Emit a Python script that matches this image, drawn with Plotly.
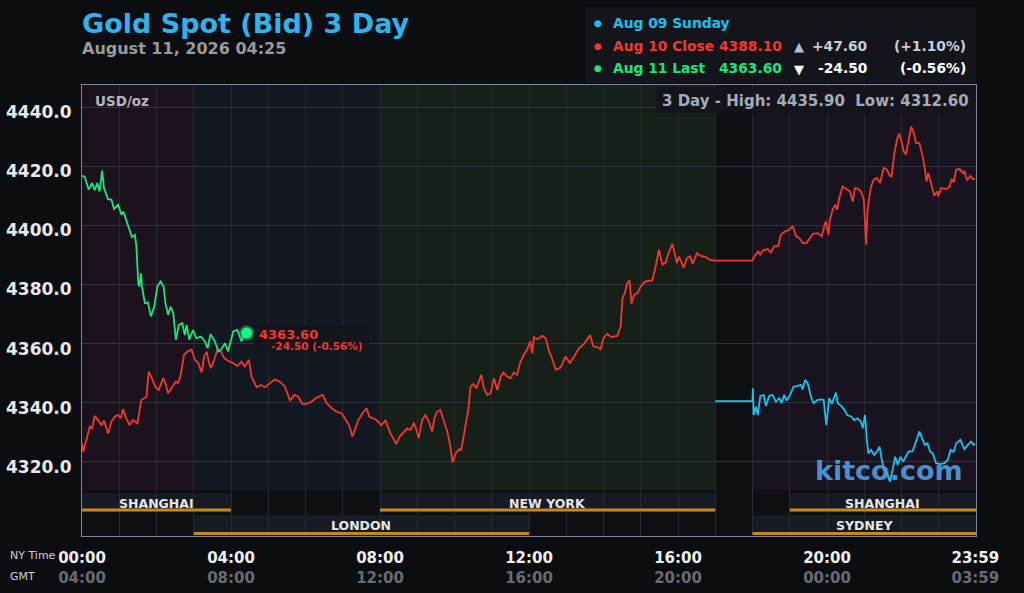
import plotly.graph_objects as go

# Gold spot bid, 3 day view (hours are NY time, 0-24)

aug09_close = 4340.50
aug10_close = 4388.10
high_3day = 4435.90
low_3day = 4312.60

aug09_hours = [17.0, 18.0, 18.01, 18.03, 18.09, 18.14, 18.21, 18.30, 18.36, 18.45, 18.54, 18.63, 18.72, 18.78,
               18.85, 18.92, 19.01, 19.10, 19.21, 19.30, 19.35, 19.41, 19.48, 19.57, 19.64, 19.75, 19.86, 19.91,
               19.98, 20.06, 20.13, 20.18, 20.24, 20.29, 20.38, 20.47, 20.54, 20.65, 20.73, 20.82, 20.91, 20.96,
               21.02, 21.07, 21.11, 21.18, 21.27, 21.34, 21.41, 21.48, 21.54, 21.63, 21.69, 21.77, 21.83, 21.90,
               21.97, 22.04, 22.12, 22.19, 22.30, 22.39, 22.48, 22.57, 22.63, 22.70, 22.77, 22.84, 22.93, 23.05,
               23.15, 23.24, 23.32, 23.40, 23.47, 23.58, 23.69, 23.78, 23.87, 23.94, 23.98]
aug09_prices = [4340.5, 4340.5, 4344.9, 4335.8, 4338.6, 4335.8, 4342.3, 4342.6, 4338.9, 4342.3, 4342.6, 4340.3,
                4341.5, 4339.8, 4342.6, 4340.7, 4342.6, 4345.4, 4345.7, 4346.0, 4344.5, 4347.7, 4346.6, 4342.0,
                4339.8, 4340.9, 4341.1, 4340.9, 4332.4, 4341.5, 4339.6, 4341.5, 4343.4, 4339.8, 4338.9, 4337.5,
                4335.8, 4335.3, 4334.1, 4334.7, 4333.6, 4331.3, 4335.8, 4327.4, 4322.8, 4324.0, 4322.3, 4323.4,
                4325.1, 4320.0, 4317.2, 4315.5, 4313.2, 4317.8, 4321.7, 4318.9, 4321.7, 4320.0, 4321.7, 4323.4,
                4323.6, 4326.8, 4330.2, 4327.4, 4325.7, 4326.2, 4323.4, 4322.8, 4319.5, 4319.2, 4319.5, 4320.6,
                4324.0, 4323.4, 4326.2, 4327.4, 4324.2, 4325.7, 4326.8, 4325.7, 4326.0]

aug10_hours = [0, 0.03, 0.12, 0.21, 0.27, 0.34, 0.43, 0.52, 0.59, 0.70, 0.79, 0.88, 0.97, 1.04, 1.10, 1.19, 1.28,
               1.37, 1.49, 1.59, 1.73, 1.79, 1.86, 1.97, 2.06, 2.18, 2.24, 2.31, 2.42, 2.51, 2.58, 2.65, 2.74, 2.83,
               2.94, 3.03, 3.12, 3.21, 3.28, 3.35, 3.41, 3.46, 3.55, 3.64, 3.73, 3.82, 3.92, 4.06, 4.17, 4.28, 4.37,
               4.48, 4.55, 4.69, 4.80, 4.91, 5.05, 5.18, 5.31, 5.45, 5.58, 5.70, 5.81, 5.91, 6.03, 6.16, 6.27, 6.36,
               6.46, 6.57, 6.70, 6.84, 6.97, 7.07, 7.17, 7.26, 7.33, 7.42, 7.53, 7.64, 7.71, 7.80, 7.91,
               8.03, 8.15, 8.28, 8.44, 8.53, 8.64, 8.73, 8.82, 8.91, 8.98, 9.04, 9.13, 9.22, 9.31, 9.40, 9.46, 9.53,
               9.62, 9.71, 9.82, 9.89, 9.95, 10.03, 10.12, 10.18, 10.25, 10.32, 10.37, 10.43, 10.50, 10.59, 10.72,
               10.79, 10.88, 10.97, 11.06, 11.15, 11.24, 11.31, 11.42, 11.51, 11.59, 11.68, 11.76, 11.86, 11.95,
               12.03, 12.09, 12.13, 12.22, 12.36, 12.45, 12.54, 12.60, 12.72, 12.85, 12.98, 13.10, 13.21, 13.34,
               13.48, 13.64, 13.73, 13.84, 13.92, 14.00, 14.10, 14.21, 14.37, 14.46, 14.51, 14.57, 14.64, 14.70,
               14.75, 14.82, 14.91, 15.00, 15.11, 15.31, 15.40, 15.49, 15.58, 15.67, 15.73, 15.85, 15.91, 15.97,
               16.03, 16.15, 16.24, 16.33, 16.39, 16.51, 16.61, 16.75, 16.84, 16.97, 17.0, 18.0,
               18.05, 18.15, 18.21, 18.27, 18.41, 18.49, 18.58, 18.69, 18.76, 18.87, 18.96, 19.08, 19.17, 19.26,
               19.35, 19.46, 19.62, 19.75, 19.86, 19.93, 19.97, 20.04, 20.07, 20.15, 20.22, 20.27, 20.33, 20.42,
               20.54, 20.62, 20.69, 20.75, 20.84, 20.91, 20.99, 21.05, 21.09, 21.18, 21.26, 21.34, 21.43, 21.52,
               21.61, 21.67, 21.73, 21.81, 21.88, 21.94, 22.00, 22.06, 22.12, 22.19, 22.26, 22.33, 22.39, 22.48,
               22.57, 22.63, 22.67, 22.72, 22.81, 22.88, 22.96, 22.99, 23.06, 23.20, 23.29, 23.35, 23.40, 23.47,
               23.56, 23.65, 23.69, 23.76, 23.85, 23.92, 23.98]
aug10_prices = [4326.2, 4323.4, 4327.4, 4331.9, 4331.3, 4335.5, 4334.1, 4332.4, 4333.9, 4329.6, 4333.6, 4335.3,
                4335.8, 4334.7, 4337.8, 4334.7, 4332.4, 4334.1, 4333.0, 4340.9, 4342.0, 4350.5, 4348.8, 4345.2,
                4344.3, 4348.3, 4346.6, 4343.2, 4345.2, 4347.1, 4346.6, 4349.4, 4356.2, 4357.3, 4357.9, 4354.5,
                4353.4, 4350.2, 4355.6, 4357.3, 4353.4, 4351.7, 4354.5, 4358.1, 4357.3, 4355.1, 4354.2, 4353.4,
                4352.4, 4353.9, 4352.2, 4354.5, 4348.8, 4345.2, 4346.0, 4345.2, 4346.6, 4347.9, 4347.1, 4345.4,
                4340.7, 4342.6, 4342.0, 4339.6, 4339.6, 4340.3, 4341.5, 4342.0, 4342.6, 4339.8, 4338.1, 4336.9,
                4336.4, 4334.4, 4332.4, 4328.5, 4330.7, 4334.1, 4336.4, 4338.1, 4335.3, 4334.7, 4334.1,
                4332.4, 4333.9, 4329.6, 4326.0, 4328.5, 4330.2, 4331.3, 4330.7, 4333.2, 4330.7, 4327.9, 4334.1,
                4335.8, 4333.6, 4330.2, 4334.7, 4336.9, 4337.5, 4334.1, 4329.6, 4325.1, 4319.8, 4322.8, 4324.2,
                4324.0, 4328.5, 4334.1, 4337.5, 4345.4, 4346.3, 4344.9, 4349.4, 4344.9, 4342.6, 4343.2, 4348.3,
                4344.3, 4348.8, 4350.2, 4348.8, 4348.3, 4350.2, 4349.4, 4353.4, 4356.2, 4357.9, 4360.7, 4356.7,
                4362.2, 4361.5, 4362.6, 4361.8, 4357.3, 4355.6, 4351.1, 4351.9, 4355.6, 4353.4, 4355.6, 4358.4,
                4359.9, 4362.9, 4359.0, 4358.8, 4358.1, 4361.8, 4363.3, 4362.2, 4362.6, 4365.8, 4375.4, 4377.1,
                4380.5, 4381.4, 4373.5, 4376.5, 4377.1, 4379.3, 4381.0, 4381.4, 4386.1, 4391.8, 4386.7, 4387.5,
                4390.1, 4393.8, 4390.6, 4387.3, 4389.5, 4385.6, 4389.0, 4389.5, 4387.0, 4390.6, 4389.7, 4389.3,
                4388.4, 4388.1, 4388.1, 4388.1,
                4389.5, 4391.2, 4390.1, 4391.5, 4392.0, 4390.8, 4392.9, 4393.1, 4396.8, 4398.0, 4398.3, 4399.7,
                4396.3, 4395.7, 4394.0, 4394.2, 4397.2, 4397.4, 4396.3, 4399.9, 4401.4, 4396.8, 4401.4, 4405.3,
                4407.0, 4405.3, 4409.3, 4413.2, 4412.1, 4411.5, 4408.1, 4412.7, 4412.3, 4411.5, 4408.7, 4393.5,
                4405.3, 4413.2, 4415.5, 4416.1, 4414.4, 4419.5, 4418.9, 4417.2, 4416.4, 4424.5, 4429.1, 4431.1,
                4428.5, 4425.1, 4424.0, 4429.1, 4433.5, 4431.3, 4427.9, 4427.9, 4423.4, 4418.9, 4414.9, 4417.8,
                4413.8, 4410.1, 4411.5, 4409.8, 4412.7, 4412.3, 4413.2, 4415.7, 4414.6, 4418.9, 4419.1, 4417.8,
                4418.3, 4415.3, 4416.8, 4415.7, 4415.7]

aug11_hours = [0, 0.07, 0.18, 0.27, 0.34, 0.41, 0.47, 0.54, 0.59, 0.70, 0.79, 0.86, 0.97, 1.06, 1.11, 1.19, 1.28,
               1.34, 1.42, 1.46, 1.51, 1.54, 1.58, 1.61, 1.69, 1.77, 1.85, 1.94, 2.02, 2.11, 2.19, 2.24, 2.31, 2.38,
               2.45, 2.52, 2.60, 2.69, 2.76, 2.81, 2.88, 2.98, 3.07, 3.19, 3.30, 3.37, 3.45, 3.57, 3.66, 3.74, 3.84,
               3.92, 4.06, 4.17, 4.28, 4.33, 4.42]
aug11_prices = [4416.8, 4416.6, 4412.1, 4414.4, 4411.9, 4414.4, 4411.5, 4418.6, 4412.7, 4408.9, 4408.7, 4405.6,
                4407.0, 4403.6, 4404.7, 4401.9, 4398.5, 4396.1, 4396.8, 4392.9, 4380.5, 4379.3, 4383.9, 4379.3,
                4373.7, 4373.9, 4369.2, 4372.5, 4379.3, 4381.0, 4379.3, 4373.7, 4369.7, 4372.5, 4370.3, 4361.3,
                4366.3, 4366.9, 4362.9, 4366.3, 4361.3, 4364.6, 4361.8, 4362.4, 4360.7, 4358.4, 4363.2, 4360.7,
                4357.3, 4358.1, 4360.1, 4357.3, 4364.1, 4364.6, 4360.7, 4362.4, 4363.6]

price_ticks = [4320, 4340, 4360, 4380, 4400, 4420, 4440]
time_ticks = [0, 4, 8, 12, 16, 20, 23.983]
ny_labels = ["00:00", "04:00", "08:00", "12:00", "16:00", "20:00", "23:59"]
gmt_labels = ["04:00", "08:00", "12:00", "16:00", "20:00", "00:00", "03:59"]

# background shading by market hours
shade_start = [0, 3, 8, 17, 18]
shade_end = [3, 8, 17, 18, 24]
shade_color = ["#1b121e", "#121722", "#171f19", "#0e0f12", "#19131f"]

# trading session bars (row 1 = upper, row 2 = lower)
session_names = ["SHANGHAI", "NEW YORK", "SHANGHAI", "LONDON", "SYDNEY"]
session_start = [0, 8, 19, 3, 18]
session_end = [4, 17, 24, 12, 24]
session_row = [1, 1, 1, 2, 2]

RED = "#f2382c"
GREEN = "#18e67e"
CYAN = "#17c3ee"
FONT = "DejaVu Sans"
BG = "#0c0d10"

W, H = 1024, 593
L, R, T, B = 82, 48, 85, 57
pw = W - L - R
ph = H - T - B


def px(x):
    return (x - L) / pw


def py(y):
    return (H - B - y) / ph


fig = go.Figure()
fig.add_trace(go.Scatter(x=aug09_hours, y=aug09_prices, mode="lines", line=dict(color=CYAN, width=1.8)))
fig.add_trace(go.Scatter(x=aug10_hours, y=aug10_prices, mode="lines", line=dict(color=RED, width=1.8)))
fig.add_trace(go.Scatter(x=aug11_hours, y=aug11_prices, mode="lines", line=dict(color=GREEN, width=1.8)))

last_h = aug11_hours[-1]
last_p = aug11_prices[-1]
fig.add_trace(go.Scatter(x=[last_h], y=[last_p], mode="markers",
                         marker=dict(color=GREEN, size=15, opacity=0.45, line=dict(width=0))))
fig.add_trace(go.Scatter(x=[last_h], y=[last_p], mode="markers",
                         marker=dict(color="#1ef08a", size=11, line=dict(width=0))))

shapes = []
for s, e, c in zip(shade_start, shade_end, shade_color):
    shapes.append(dict(type="rect", xref="x", yref="paper", x0=s, x1=e, y0=py(490), y1=1,
                       fillcolor=c, line=dict(width=0), layer="below"))
shapes.append(dict(type="rect", xref="x", yref="paper", x0=17, x1=18, y0=0, y1=1,
                   fillcolor="#0e0f12", line=dict(width=0), layer="below"))

annotations = []
for name, s, e, row in zip(session_names, session_start, session_end, session_row):
    if row == 1:
        top, bot, label_y = 493, 512, 503.5
    else:
        top, bot, label_y = 515, 535.5, 525
    shapes.append(dict(type="rect", xref="x", yref="paper", x0=s, x1=e, y0=py(bot), y1=py(top),
                       fillcolor="#161a22", line=dict(width=0), layer="below"))
    shapes.append(dict(type="rect", xref="x", yref="paper", x0=s, x1=e, y0=py(bot - 0.5), y1=py(bot - 3.5),
                       fillcolor="#c9861c", line=dict(width=0), layer="above"))
    annotations.append(dict(x=(s + e) / 2, y=py(label_y), xref="x", yref="paper", text=name, showarrow=False,
                            yanchor="middle",
                            font=dict(family=FONT, size=12.5, color="#e6e6e6", weight="bold")))

# legend box, high/low box and last price label box
shapes.append(dict(type="rect", xref="paper", yref="paper", x0=px(585), x1=px(976), y0=py(83), y1=py(7),
                   fillcolor="#13151a", line=dict(width=0)))
shapes.append(dict(type="rect", xref="paper", yref="paper", x0=px(656), x1=px(975), y0=py(113), y1=py(87),
                   fillcolor="rgba(19,21,26,0.92)", line=dict(width=0)))
shapes.append(dict(type="rect", xref="paper", yref="paper", x0=px(254), x1=px(369), y0=py(351), y1=py(325),
                   fillcolor="rgba(19,21,26,0.85)", line=dict(width=0)))


def note(x, y, text, size, color, anchor="left", bold=True):
    annotations.append(dict(x=px(x), y=py(y), xref="paper", yref="paper", text=text, showarrow=False,
                            xanchor=anchor, yanchor="middle",
                            font=dict(family=FONT, size=size, color=color,
                                      weight="bold" if bold else "normal")))


note(80, 23, "Gold Spot (Bid) 3 Day", 27, "#2fb3ef")
note(80, 49, "August 11, 2026 04:25", 16, "#9a9a9a")

chg10 = aug10_close - aug09_close
chg11 = last_p - aug10_close
legend_rows = [
    ("Aug 09 Sunday", CYAN, None, None, None),
    ("Aug 10 Close", RED, aug10_close, chg10, chg10 / aug09_close * 100),
    ("Aug 11 Last", GREEN, last_p, chg11, chg11 / aug10_close * 100),
]
for i, (label, color, price, chg, pct) in enumerate(legend_rows):
    y = 23 + i * 22.6
    annotations.append(dict(x=px(598), y=py(y), xref="paper", yref="paper", text="●", showarrow=False,
                            yanchor="middle", font=dict(family=FONT, size=9, color=color)))
    note(611, y, label, 13.8, color)
    if price is None:
        continue
    arrow_color = "#b8bcc4" if chg > 0 else "#ffffff"
    txt_color = "#c8ccd4" if chg > 0 else "#ffffff"
    note(784, y, f"{price:.2f}", 13.8, color, "right")
    note(799, y + 1, "▲" if chg > 0 else "▼", 13, arrow_color, "center")
    note(869, y, f"{chg:+.2f}", 13.8, txt_color, "right")
    note(968, y, f"({pct:+.2f}%)", 13.8, txt_color, "right")

note(660, 101, f"3 Day - High: {high_3day:.2f}  Low: {low_3day:.2f}", 15, "#a3abbb")
note(93, 101, "USD/oz", 13.5, "#b4b8c0")
note(257, 334, f"{last_p:.2f}", 13, RED)
note(365, 346, f"{chg11:+.2f} ({chg11 / aug10_close * 100:+.2f}%)", 10.5, RED, "right")
note(889, 470, "kitco.com", 27, "rgba(80,156,220,0.92)", "center")
note(8, 555, "NY Time", 11, "#d0d0d0", bold=False)
note(8, 576, "GMT", 11, "#d0d0d0", bold=False)

tick_text = [f"<b>{a}</b><br><b><span style='color:#676b72'>{b}</span></b>" for a, b in zip(ny_labels, gmt_labels)]

fig.update_layout(
    width=W, height=H,
    margin=dict(l=L, r=R, t=T, b=B, autoexpand=False),
    paper_bgcolor=BG,
    plot_bgcolor="#0e0f12",
    showlegend=False,
    shapes=shapes,
    annotations=annotations,
    font=dict(family=FONT),
    xaxis=dict(range=[0, 24], tickmode="array", tickvals=time_ticks, ticktext=tick_text,
               automargin=False, showgrid=False, zeroline=False, ticks="", ticklabelstandoff=8,
               tickfont=dict(family=FONT, size=15, color="#f0f0f0"),
               minor=dict(tickmode="linear", tick0=0, dtick=1, showgrid=True, gridcolor="#262930", ticks=""),
               showline=True, linecolor="#7e8699", linewidth=1, mirror=True),
    yaxis=dict(range=[4294.84, 4447.56], tickmode="array", tickvals=price_ticks,
               ticktext=[f"{v:.1f}" for v in price_ticks],
               automargin=False, showgrid=True, gridcolor="#30333b", zeroline=False, ticks="",
               ticklabelstandoff=6, ticklabelshift=5,
               tickfont=dict(family=FONT, size=17, color="#e8e8e8", weight="bold"),
               showline=True, linecolor="#7e8699", linewidth=1, mirror=True),
)

# page body margin would shift the figure, so drop it
fig.write_html("out.html", config={"displayModeBar": False},
               post_script="document.body.style.margin='0';document.body.style.background='" + BG + "';")
